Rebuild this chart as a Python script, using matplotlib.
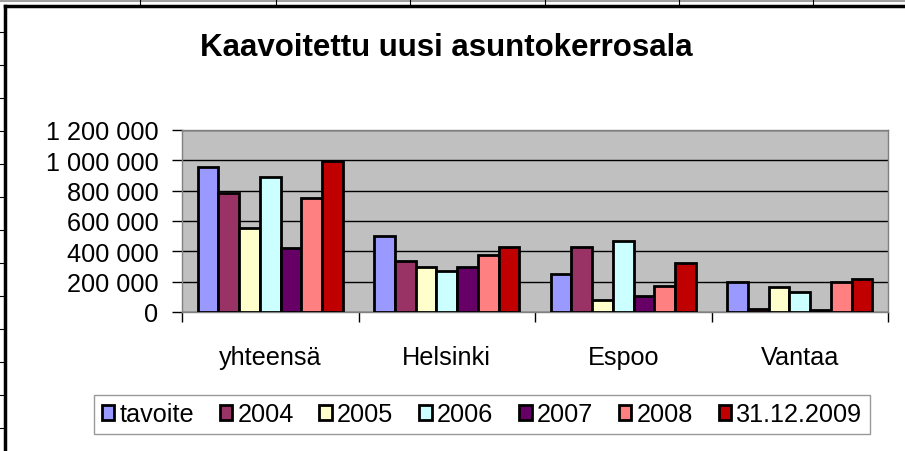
import numpy as np
import matplotlib
matplotlib.use("Agg")
import matplotlib.pyplot as plt
from matplotlib.lines import Line2D

# data
kategoriat = ["yhteensä", "Helsinki", "Espoo", "Vantaa"]
sarjat = ["tavoite", "2004", "2005", "2006", "2007", "2008", "31.12.2009"]
tavoite = [955000, 500000, 250000, 200000]
v2004 = [785000, 333000, 426000, 20000]
v2005 = [552000, 297000, 81000, 167000]
v2006 = [893000, 272000, 468000, 132000]
v2007 = [420000, 295000, 108000, 15000]
v2008 = [752000, 376000, 169000, 200000]
v2009 = [995000, 428000, 321000, 218000]
arvot = [tavoite, v2004, v2005, v2006, v2007, v2008, v2009]
varit = ["#9999FF", "#993366", "#FFFFCC", "#CCFFFF", "#660066", "#FF8080", "#C00000"]
y_ticks = [0, 200000, 400000, 600000, 800000, 1000000, 1200000]

plt.rcParams['font.family'] = ['Liberation Sans', 'DejaVu Sans']

fig = plt.figure(figsize=(9.05, 4.52), dpi=100)
W, H = 905, 452

# taulukon ruudukko taustalla
fig.add_artist(Line2D([0, 1], [1 - 1.5 / H, 1 - 1.5 / H], color="#A0A0A0", lw=1.5))
for xp in [140, 276, 410, 545, 679, 813]:
    fig.add_artist(Line2D([xp / W, xp / W], [1, 1 - 6 / H], color="black", lw=0.8))
for yp in range(33, 452, 33):
    fig.add_artist(Line2D([0, 4 / W], [1 - yp / H, 1 - yp / H], color="black", lw=0.8))
# kaavion reunus
fig.add_artist(Line2D([5 / W, 5 / W], [0, 1 - 7 / H], color="black", lw=2.5))
fig.add_artist(Line2D([5 / W, 1], [1 - 7 / H, 1 - 7 / H], color="black", lw=2.5))

ax = fig.add_axes([182 / W, 1 - 313 / H, (888 - 182) / W, (313 - 131) / H])
ax.set_facecolor("#C0C0C0")

x = np.arange(len(kategoriat))
w = 1 / 8.5
for i, (nimi, data, vari) in enumerate(zip(sarjat, arvot, varit)):
    ax.bar(x + (i - 3) * w, data, w, color=vari, edgecolor="black", linewidth=2,
           label=nimi, zorder=3)

ax.set_xlim(-0.5, 3.5)
ax.set_ylim(0, 1200000)
ax.set_yticks(y_ticks)
ax.set_yticklabels([f"{v:,}".replace(",", " ") for v in y_ticks], fontsize=18.2)
ax.yaxis.grid(True, color="black", lw=1, zorder=1)
ax.set_axisbelow(True)

ax.set_xticks(np.arange(-0.5, 4, 1))
ax.set_xticklabels([])
ax.set_xticks(x, minor=True)
ax.set_xticklabels(kategoriat, minor=True, fontsize=18.2)
ax.tick_params(axis="x", which="minor", length=0, pad=24)
ax.tick_params(axis="x", which="major", length=7, width=1, direction="out")
ax.tick_params(axis="y", length=7, width=1, pad=10)

for s in ax.spines.values():
    s.set_color("#808080")
    s.set_linewidth(1)

fig.text(446 / W, 1 - 48 / H, "Kaavoitettu uusi asuntokerrosala", ha="center", va="center",
         fontsize=22.5, fontweight="bold")

leg = fig.legend(loc="center", bbox_to_anchor=(482 / W, 1 - 415.5 / H), ncol=7,
                 fontsize=18.2, frameon=True, fancybox=False, edgecolor="#808080",
                 handlelength=0.5, handleheight=0.5, handletextpad=0.2, columnspacing=1.02,
                 borderpad=0.3, borderaxespad=0)
leg.get_frame().set_linewidth(1)
for h in leg.legend_handles:
    h.set_linewidth(2)

fig.savefig("out.png", dpi=100)
